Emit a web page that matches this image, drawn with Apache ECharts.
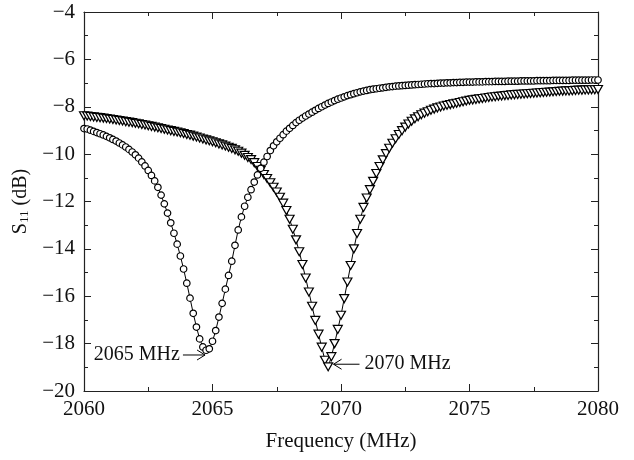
<!DOCTYPE html>
<html><head><meta charset="utf-8">
<script src="https://cdn.jsdelivr.net/npm/echarts@6/dist/echarts.min.js"></script>
<style>html,body{margin:0;padding:0;background:#fff}#c{width:634px;height:460px}</style>
</head><body><div id="c"></div>
<script>
// Sweep frequencies (MHz)
const freq = [
2060,2060.125,2060.25,2060.375,2060.5,2060.625,2060.75,2060.875,
2061,2061.125,2061.25,2061.375,2061.5,2061.625,2061.75,2061.875,
2062,2062.125,2062.25,2062.375,2062.5,2062.625,2062.75,2062.875,
2063,2063.125,2063.25,2063.375,2063.5,2063.625,2063.75,2063.875,
2064,2064.125,2064.25,2064.375,2064.5,2064.625,2064.75,2064.875,
2065,2065.125,2065.25,2065.375,2065.5,2065.625,2065.75,2065.875,
2066,2066.125,2066.25,2066.375,2066.5,2066.625,2066.75,2066.875,
2067,2067.125,2067.25,2067.375,2067.5,2067.625,2067.75,2067.875,
2068,2068.125,2068.25,2068.375,2068.5,2068.625,2068.75,2068.875,
2069,2069.125,2069.25,2069.375,2069.5,2069.625,2069.75,2069.875,
2070,2070.125,2070.25,2070.375,2070.5,2070.625,2070.75,2070.875,
2071,2071.125,2071.25,2071.375,2071.5,2071.625,2071.75,2071.875,
2072,2072.125,2072.25,2072.375,2072.5,2072.625,2072.75,2072.875,
2073,2073.125,2073.25,2073.375,2073.5,2073.625,2073.75,2073.875,
2074,2074.125,2074.25,2074.375,2074.5,2074.625,2074.75,2074.875,
2075,2075.125,2075.25,2075.375,2075.5,2075.625,2075.75,2075.875,
2076,2076.125,2076.25,2076.375,2076.5,2076.625,2076.75,2076.875,
2077,2077.125,2077.25,2077.375,2077.5,2077.625,2077.75,2077.875,
2078,2078.125,2078.25,2078.375,2078.5,2078.625,2078.75,2078.875,
2079,2079.125,2079.25,2079.375,2079.5,2079.625,2079.75,2079.875,
2080];

// S11 (dB), resonance near 2065 MHz (circles)
const s11Circle = [
-8.92,-8.94,-8.99,-9.04,-9.09,-9.14,-9.19,-9.25,
-9.31,-9.38,-9.45,-9.53,-9.61,-9.70,-9.80,-9.91,
-10.03,-10.17,-10.33,-10.50,-10.69,-10.90,-11.13,-11.40,
-11.73,-12.10,-12.49,-12.90,-13.34,-13.80,-14.30,-14.85,
-15.45,-16.08,-16.72,-17.30,-17.80,-18.14,-18.28,-18.22,
-17.90,-17.45,-16.88,-16.30,-15.70,-15.12,-14.52,-13.85,
-13.20,-12.65,-12.20,-11.82,-11.50,-11.18,-10.88,-10.60,
-10.34,-10.10,-9.85,-9.65,-9.48,-9.33,-9.18,-9.03,
-8.91,-8.79,-8.67,-8.57,-8.48,-8.39,-8.31,-8.23,
-8.15,-8.07,-8.00,-7.93,-7.86,-7.80,-7.74,-7.68,
-7.63,-7.58,-7.53,-7.49,-7.45,-7.41,-7.37,-7.34,
-7.31,-7.28,-7.26,-7.24,-7.22,-7.20,-7.18,-7.16,
-7.15,-7.13,-7.12,-7.11,-7.10,-7.09,-7.08,-7.07,
-7.06,-7.05,-7.04,-7.03,-7.02,-7.02,-7.01,-7.00,
-7.00,-6.99,-6.99,-6.98,-6.98,-6.97,-6.97,-6.96,
-6.96,-6.96,-6.95,-6.95,-6.95,-6.94,-6.94,-6.94,
-6.93,-6.93,-6.93,-6.93,-6.92,-6.92,-6.92,-6.92,
-6.91,-6.91,-6.91,-6.91,-6.91,-6.90,-6.90,-6.90,
-6.90,-6.90,-6.89,-6.89,-6.89,-6.89,-6.89,-6.89,
-6.88,-6.88,-6.88,-6.88,-6.88,-6.88,-6.87,-6.87,
-6.87];

// S11 (dB), resonance near 2070 MHz (triangles)
const s11Triangle = [
-8.38,-8.39,-8.41,-8.43,-8.45,-8.46,-8.48,-8.50,
-8.52,-8.54,-8.56,-8.58,-8.60,-8.63,-8.65,-8.67,
-8.70,-8.72,-8.75,-8.77,-8.80,-8.83,-8.86,-8.89,
-8.92,-8.95,-8.98,-9.01,-9.04,-9.07,-9.10,-9.13,
-9.17,-9.20,-9.24,-9.28,-9.32,-9.36,-9.40,-9.44,
-9.48,-9.52,-9.57,-9.61,-9.66,-9.71,-9.76,-9.82,
-9.88,-9.96,-10.05,-10.14,-10.23,-10.36,-10.52,-10.68,
-10.86,-11.03,-11.21,-11.40,-11.60,-11.82,-12.07,-12.38,
-12.75,-13.17,-13.62,-14.12,-14.66,-15.23,-15.82,-16.42,
-17.02,-17.60,-18.15,-18.70,-18.98,-18.55,-18.00,-17.40,
-16.80,-16.10,-15.40,-14.70,-14.00,-13.35,-12.75,-12.25,
-11.85,-11.50,-11.15,-10.82,-10.52,-10.24,-9.98,-9.75,
-9.54,-9.35,-9.17,-9.01,-8.86,-8.73,-8.61,-8.51,
-8.42,-8.34,-8.27,-8.21,-8.15,-8.10,-8.05,-8.01,
-7.97,-7.94,-7.91,-7.88,-7.85,-7.82,-7.79,-7.76,
-7.73,-7.71,-7.69,-7.67,-7.65,-7.63,-7.61,-7.59,
-7.58,-7.56,-7.55,-7.53,-7.52,-7.50,-7.49,-7.48,
-7.47,-7.46,-7.45,-7.44,-7.43,-7.42,-7.41,-7.40,
-7.39,-7.38,-7.37,-7.36,-7.35,-7.34,-7.33,-7.33,
-7.32,-7.31,-7.30,-7.30,-7.29,-7.29,-7.28,-7.28,
-7.27];

const annotationLabels = ['2065 MHz', '2070 MHz'];
// arrow tip / tail in data units (annotation only)
const arrowTips = [[2064.71, -18.48], [2069.71, -18.87]];
const arrowTails = [[2063.85, -18.48], [2070.72, -18.87]];

const FONT = '"Liberation Serif","Times New Roman",serif';
const AX = '#222';
const minusFmt = v => (v < 0 ? '\u2212' : '') + Math.abs(v);
const plainFmt = v => String(v);

const pairs = (xs, ys) => xs.map((x, i) => [x, ys[i]]);

const chart = echarts.init(document.getElementById('c'), null, {renderer: 'canvas'});

const xBase = {
  type: 'value', min: 2060, max: 2080, interval: 5,
  axisLine: {show: true, onZero: false, lineStyle: {color: AX, width: 1.2}},
  axisTick: {show: true, inside: true, length: 7, lineStyle: {color: AX, width: 1}},
  minorTick: {show: true, splitNumber: 2, length: 4, lineStyle: {color: AX, width: 1}},
  splitLine: {show: false}, minorSplitLine: {show: false}
};
const yBase = {
  type: 'value', min: -20, max: -4, interval: 2,
  axisLine: {show: true, onZero: false, lineStyle: {color: AX, width: 1.2}},
  axisTick: {show: true, inside: true, length: 7, lineStyle: {color: AX, width: 1}},
  minorTick: {show: true, splitNumber: 2, length: 4, lineStyle: {color: AX, width: 1}},
  splitLine: {show: false}, minorSplitLine: {show: false}
};

chart.setOption({
  animation: false,
  backgroundColor: '#fff',
  grid: {left: 84, right: 36, top: 12, bottom: 69, containLabel: false},
  xAxis: [
    Object.assign({}, xBase, {
      position: 'bottom',
      axisLabel: {color: '#111', fontFamily: FONT, fontSize: 21, margin: 8, formatter: plainFmt},
      name: 'Frequency (MHz)', nameLocation: 'middle', nameGap: 40,
      nameTextStyle: {color: '#111', fontFamily: FONT, fontSize: 21}
    }),
    Object.assign({}, xBase, {position: 'top', axisLabel: {show: false}})
  ],
  yAxis: [
    Object.assign({}, yBase, {
      position: 'left',
      axisLabel: {color: '#111', fontFamily: FONT, fontSize: 21, margin: 9, formatter: minusFmt},
      name: '{a|S}{b|11}{a| (dB)}', nameLocation: 'middle', nameGap: 47, nameRotate: 90,
      nameTextStyle: {
        color: '#111', fontFamily: FONT, fontSize: 20,
        rich: {
          a: {fontFamily: FONT, fontSize: 20, color: '#111', lineHeight: 22},
          b: {fontFamily: FONT, fontSize: 13, color: '#111', lineHeight: 22, padding: [9, 0, 0, 0]}
        }
      }
    }),
    Object.assign({}, yBase, {position: 'right', axisLabel: {show: false}})
  ],
  series: [
    {
      name: '2070 MHz', type: 'line', xAxisIndex: 0, yAxisIndex: 0,
      data: pairs(freq, s11Triangle),
      symbol: 'triangle', symbolRotate: 180, symbolSize: [9, 8],
      showAllSymbol: true,
      lineStyle: {color: '#000', width: 1},
      itemStyle: {color: '#fff', borderColor: '#000', borderWidth: 1.2},
      z: 2
    },
    {
      name: '2065 MHz', type: 'line', xAxisIndex: 0, yAxisIndex: 0,
      data: pairs(freq, s11Circle),
      symbol: 'circle', symbolSize: 6.5,
      showAllSymbol: true,
      lineStyle: {color: '#000', width: 1},
      itemStyle: {color: '#fff', borderColor: '#000', borderWidth: 1.2},
      z: 3
    }
  ]
});

// annotations (text + open arrows) anchored in data space
const graphics = [];
annotationLabels.forEach((label, i) => {
  const tip = chart.convertToPixel({xAxisIndex: 0, yAxisIndex: 0}, arrowTips[i]);
  const tail = chart.convertToPixel({xAxisIndex: 0, yAxisIndex: 0}, arrowTails[i]);
  const dir = Math.sign(tip[0] - tail[0]);
  graphics.push({type: 'line', shape: {x1: tail[0], y1: tail[1], x2: tip[0], y2: tip[1]},
    style: {stroke: '#000', lineWidth: 1}, z: 10});
  graphics.push({type: 'polyline', shape: {points: [[tip[0] - dir * 8, tip[1] - 5], [tip[0], tip[1]], [tip[0] - dir * 8, tip[1] + 5]]},
    style: {stroke: '#000', lineWidth: 1, fill: null}, z: 10});
  graphics.push({type: 'text', x: dir > 0 ? tail[0] - 3 : tail[0] + 5, y: tail[1],
    style: {text: label, font: '20px ' + FONT, fill: '#111',
      textAlign: dir > 0 ? 'right' : 'left', textVerticalAlign: 'middle'}, z: 10});
});
chart.setOption({graphic: graphics});
</script>
</body></html>
